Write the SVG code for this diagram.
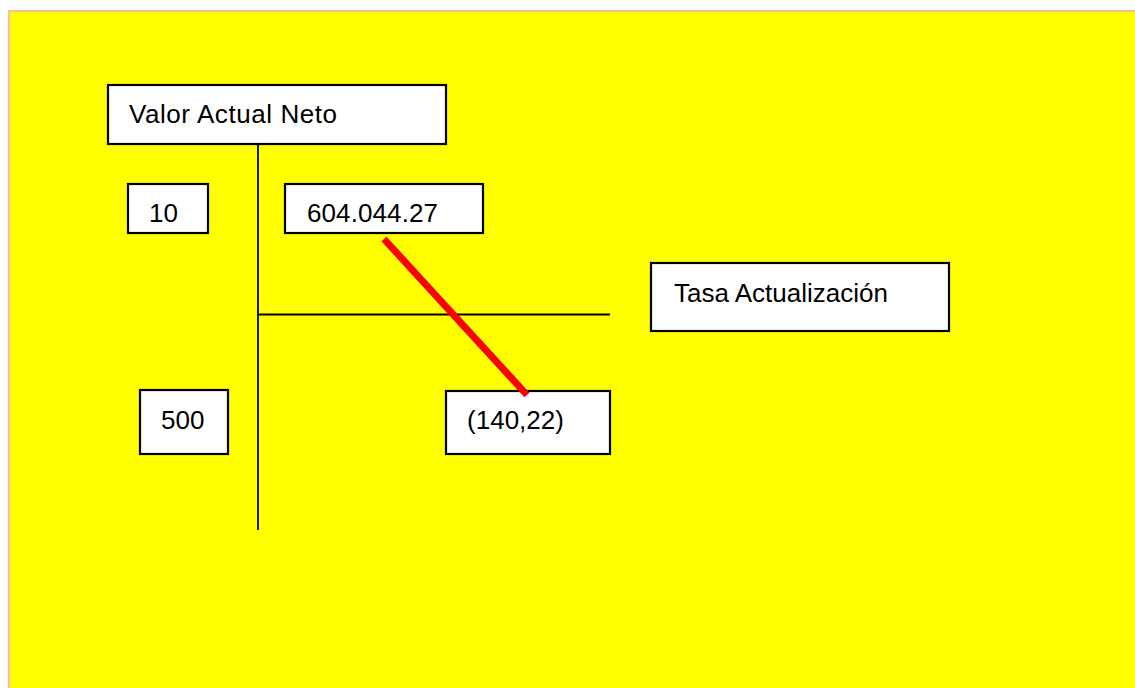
<svg xmlns="http://www.w3.org/2000/svg" width="1135" height="688" viewBox="0 0 1135 688">
<style>
.box{fill:#fff;stroke:#000;stroke-width:2.2}
.lbl{font-family:"Liberation Sans",Arial,sans-serif;font-size:26px;fill:#000}
.ln{stroke:#000;stroke-width:1.8;fill:none}
</style>
<rect x="0" y="0" width="1135" height="688" fill="#fff"/>
<rect x="9" y="11" width="1140" height="690" fill="#ffff00" stroke="#f8bf96" stroke-width="2.2"/>
<g id="connectors">
<line class="ln" x1="258" y1="144" x2="258" y2="530"/>
<line class="ln" x1="258" y1="314.5" x2="610" y2="314.5"/>
</g>
<g id="n-van"><rect class="box" x="108" y="85" width="338" height="59"/><text class="lbl" x="129" y="123" textLength="208" lengthAdjust="spacing">Valor Actual Neto</text></g>
<g id="n-10"><rect class="box" x="128" y="184" width="80" height="49"/><text class="lbl" x="149" y="222">10</text></g>
<g id="n-604"><rect class="box" x="285" y="184" width="198" height="49"/><text class="lbl" x="307" y="222" textLength="131" lengthAdjust="spacing">604.044.27</text></g>
<g id="n-tasa"><rect class="box" x="651" y="263" width="298" height="68"/><text class="lbl" x="674" y="302" textLength="214" lengthAdjust="spacing">Tasa Actualización</text></g>
<g id="n-500"><rect class="box" x="140" y="390" width="88" height="64"/><text class="lbl" x="161" y="429">500</text></g>
<g id="n-140"><rect class="box" x="446" y="391" width="164" height="63"/><text class="lbl" x="467" y="429" textLength="97" lengthAdjust="spacing">(140,22)</text></g>
<g id="red"><line x1="384" y1="239" x2="527" y2="395" stroke="#ff0000" stroke-width="7"/></g>
</svg>
